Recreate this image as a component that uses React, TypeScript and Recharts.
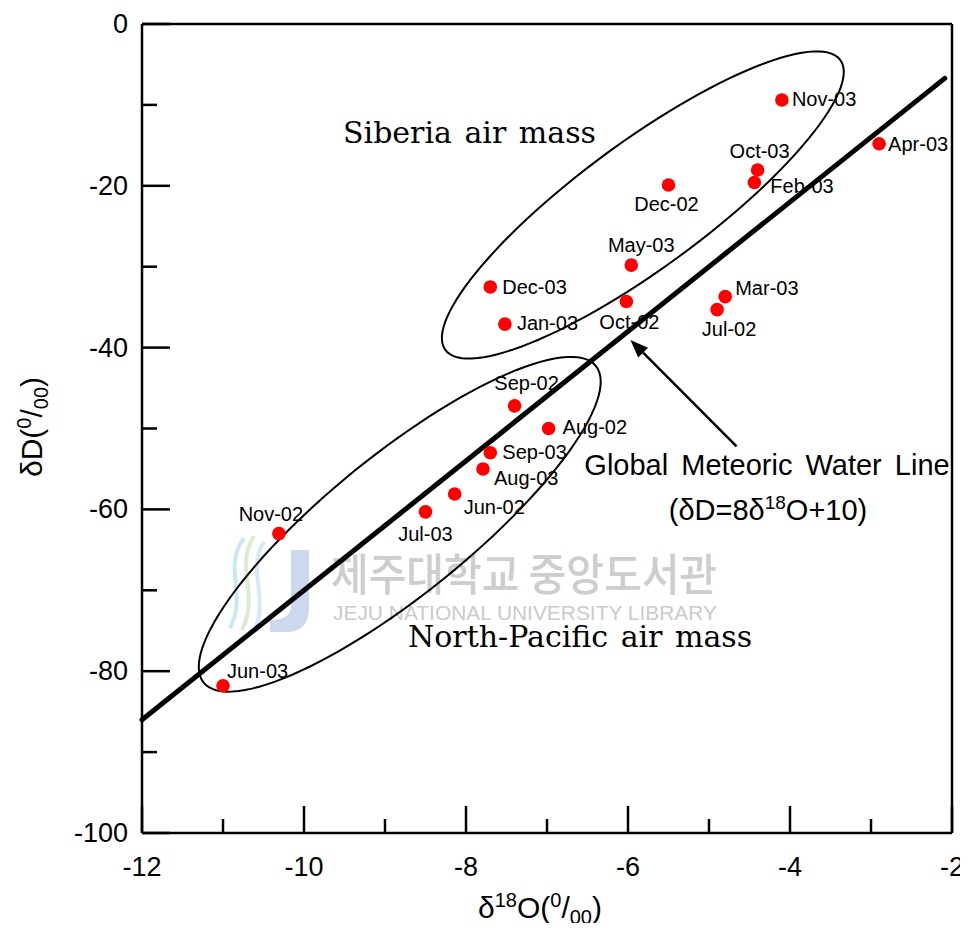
import { ScatterChart, Scatter, XAxis, YAxis, ReferenceLine, Customized } from "recharts";

// monthly isotope samples
const months = ["Nov-03", "Apr-03", "Oct-03", "Feb-03", "Dec-02", "May-03", "Dec-03", "Jan-03", "Oct-02", "Mar-03", "Jul-02", "Sep-02", "Aug-02", "Sep-03", "Aug-03", "Jun-02", "Jul-03", "Nov-02", "Jun-03"];
const d18O = [-4.1, -2.9, -4.4, -4.44, -5.5, -5.96, -7.7, -7.52, -6.02, -4.8, -4.9, -7.4, -6.98, -7.7, -7.79, -8.14, -8.5, -10.31, -11.0];
const dD = [-9.4, -14.8, -18.05, -19.6, -19.9, -29.8, -32.5, -37.1, -34.3, -33.7, -35.3, -47.2, -50.0, -53.0, -55.0, -58.1, -60.3, -63.0, -81.8];

const xTicks = [-12, -11, -10, -9, -8, -7, -6, -5, -4, -3, -2];
const yTicks = [0, -10, -20, -30, -40, -50, -60, -70, -80, -90, -100];

// GMWL: dD = 8 * d18O + 10
const gmwlSlope = 8;
const gmwlIntercept = 10;
const gmwlRange = [-12, -2.09];

// air-mass envelopes: center and two conjugate semi-axes, in data units
const siberiaEnv = { c: [-5.817, -22.37], a: [2.438, 17.92], b: [-0.46, 6.28] };
const pacificEnv = { c: [-8.818, -61.84], a: [2.421, 19.57], b: [-0.543, 6.73] };

const arrowTail = { x: -4.66, y: -52.2 };
const arrowTip = { x: -5.97, y: -39.05 };

const points = months.map((m, i) => ({ name: m, x: d18O[i], y: dD[i] }));

// label offsets (px) relative to each dot
const labelPos: Record<string, [number, number, "start" | "middle" | "end"]> = {
  "Nov-03": [10, -1, "start"],
  "Apr-03": [9, 0, "start"],
  "Oct-03": [2, -19, "middle"],
  "Feb-03": [16, 3, "start"],
  "Dec-02": [-2, 19, "middle"],
  "May-03": [10, -20, "middle"],
  "Dec-03": [12, 0, "start"],
  "Jan-03": [12, -1, "start"],
  "Oct-02": [3, 21, "middle"],
  "Mar-03": [10, -9, "start"],
  "Jul-02": [12, 19, "middle"],
  "Sep-02": [12, -23, "middle"],
  "Aug-02": [14, -2, "start"],
  "Sep-03": [12, -1, "start"],
  "Aug-03": [11, 9, "start"],
  "Jun-02": [9, 13, "start"],
  "Jul-03": [0, 22, "middle"],
  "Nov-02": [-8, -20, "middle"],
  "Jun-03": [4, -15, "start"],
};

function envelope(e: { c: number[]; a: number[]; b: number[] }) {
  const out = [];
  const n = 120;
  for (let i = 0; i <= n; i++) {
    const t = (i / n) * Math.PI * 2;
    out.push({
      x: e.c[0] + Math.cos(t) * e.a[0] + Math.sin(t) * e.b[0],
      y: e.c[1] + Math.cos(t) * e.a[1] + Math.sin(t) * e.b[1],
    });
  }
  return out;
}

const sans = "'Liberation Sans', Arial, sans-serif";
const serif = "'DejaVu Serif', serif";

function XTick({ x, y, payload }: any) {
  const major = Math.abs(payload.value) % 2 === 0;
  return (
    <g>
      <line x1={x} y1={y} x2={x} y2={y - (major ? 27 : 14)} stroke="#000" strokeWidth={2.5} />
      {major && (
        <text x={x} y={y + 34} textAnchor="middle" dominantBaseline="central" fontSize={27} fontFamily={sans} fill="#000">
          {payload.value}
        </text>
      )}
    </g>
  );
}

function YTick({ x, y, payload }: any) {
  const major = Math.abs(payload.value) % 20 === 0;
  return (
    <g>
      <line x1={x} y1={y} x2={x + (major ? 28 : 15)} y2={y} stroke="#000" strokeWidth={2.5} />
      {major && (
        <text x={x - 14} y={y} textAnchor="end" dominantBaseline="central" fontSize={27} fontFamily={sans} fill="#000">
          {payload.value}
        </text>
      )}
    </g>
  );
}

function Dot({ cx, cy, payload }: any) {
  const [dx, dy, anchor] = labelPos[payload.name] || [10, 0, "start"];
  return (
    <g>
      <circle cx={cx} cy={cy} r={6.8} fill="#ff0000" />
      <text x={cx + dx} y={cy + dy} textAnchor={anchor} dominantBaseline="central" fontSize={20} fontFamily={sans} fill="#000">
        {payload.name}
      </text>
    </g>
  );
}

function Arrow({ x1, y1, x2, y2 }: any) {
  const ang = Math.atan2(y2 - y1, x2 - x1);
  const len = 18;
  const hw = 7;
  const bx = x2 - len * Math.cos(ang);
  const by = y2 - len * Math.sin(ang);
  const px = -Math.sin(ang) * hw;
  const py = Math.cos(ang) * hw;
  return (
    <g>
      <line x1={x1} y1={y1} x2={bx} y2={by} stroke="#000" strokeWidth={2.5} />
      <polygon points={`${x2},${y2} ${bx + px},${by + py} ${bx - px},${by - py}`} fill="#000" />
    </g>
  );
}

function Watermark() {
  return (
    <g>
      <g opacity={0.4} fill="none" strokeWidth={4}>
        <path d="M244 538 C 222 568, 248 593, 230 628" stroke="#7fc8e0" />
        <path d="M254 536 C 234 568, 260 593, 242 630" stroke="#a8d08a" />
        <path d="M264 542 C 246 570, 270 598, 254 632" stroke="#9fc8ec" />
      </g>
      <path d="M291 550 L309 550 L309 608 Q309 632 286 632 L270 632 L270 620 Q291 620 291 606 Z" fill="#8ea8d6" opacity={0.45} />
      <text x={331} y={572} textLength={386} lengthAdjust="spacingAndGlyphs" dominantBaseline="central" fontSize={44} fontWeight={500} fontFamily="'Noto Sans CJK KR', sans-serif" fill="#cdcdcd">
        제주대학교 중앙도서관
      </text>
      <text x={333} y={612} textLength={384} lengthAdjust="spacingAndGlyphs" dominantBaseline="central" fontSize={21} fontFamily={sans} fill="#cbcbcb">
        JEJU NATIONAL UNIVERSITY  LIBRARY
      </text>
    </g>
  );
}

function Annotations() {
  return (
    <g fill="#000">
      <text x={343} y={143} fontSize={30} fontFamily={serif} wordSpacing={3}>Siberia air mass</text>
      <text x={408} y={647} fontSize={30} fontFamily={serif} wordSpacing={3}>North-Pacific air mass</text>
      <text x={767} y={475} textAnchor="middle" fontSize={29} fontFamily={sans} wordSpacing={5}>Global Meteoric Water Line</text>
      <text x={768} y={520} textAnchor="middle" fontSize={29} fontFamily={sans}>
        (δD=8δ<tspan fontSize={19} dy={-11}>18</tspan>
        <tspan fontSize={29} dy={11}>O+10)</tspan>
      </text>
      <text x={540} y={918} textAnchor="middle" fontSize={30} fontFamily={sans}>
        δ<tspan fontSize={20} dy={-11}>18</tspan>
        <tspan fontSize={30} dy={11}>O(</tspan>
        <tspan fontSize={20} dy={-11}>0</tspan>
        <tspan fontSize={30} dy={11}>/</tspan>
        <tspan fontSize={20} dy={6}>00</tspan>
        <tspan fontSize={30} dy={-6}>)</tspan>
      </text>
      <text x={42} y={427} transform="rotate(-90 42 427)" textAnchor="middle" fontSize={30} fontFamily={sans}>
        δD(<tspan fontSize={20} dy={-11}>0</tspan>
        <tspan fontSize={30} dy={11}>/</tspan>
        <tspan fontSize={20} dy={6}>00</tspan>
        <tspan fontSize={30} dy={-6}>)</tspan>
      </text>
    </g>
  );
}

export default function App() {
  return (
    <div style={{ margin: -8, width: 968, height: 931, background: "#fff" }}>
      <ScatterChart width={968} height={931} margin={{ top: 24, right: 16, bottom: 0, left: 0 }}>
        <Customized component={Watermark} />
        <XAxis
          type="number"
          dataKey="x"
          domain={[-12, -2]}
          ticks={xTicks}
          interval={0}
          height={98}
          tickSize={0}
          tickMargin={0}
          tickLine={false}
          axisLine={{ stroke: "#000", strokeWidth: 2.5 }}
          tick={<XTick />}
          allowDataOverflow
        />
        <YAxis
          type="number"
          dataKey="y"
          domain={[-100, 0]}
          ticks={yTicks}
          interval={0}
          width={142}
          tickSize={0}
          tickMargin={0}
          tickLine={false}
          axisLine={{ stroke: "#000", strokeWidth: 2.5 }}
          tick={<YTick />}
          allowDataOverflow
        />
        <ReferenceLine y={0} stroke="#000" strokeWidth={2.5} />
        <ReferenceLine x={-2} stroke="#000" strokeWidth={2.5} />
        <Scatter data={envelope(siberiaEnv)} fill="none" line={{ stroke: "#000", strokeWidth: 2 }} shape={() => <g />} isAnimationActive={false} />
        <Scatter data={envelope(pacificEnv)} fill="none" line={{ stroke: "#000", strokeWidth: 2 }} shape={() => <g />} isAnimationActive={false} />
        <ReferenceLine
          segment={[
            { x: gmwlRange[0], y: gmwlSlope * gmwlRange[0] + gmwlIntercept },
            { x: gmwlRange[1], y: gmwlSlope * gmwlRange[1] + gmwlIntercept },
          ]}
          stroke="#000"
          strokeWidth={5}
          strokeLinecap="round"
        />
        <ReferenceLine segment={[arrowTail, arrowTip]} shape={(p: any) => <Arrow {...p} />} />
        <Customized component={Annotations} />
        <Scatter data={points} shape={(p: any) => <Dot {...p} />} isAnimationActive={false} />
      </ScatterChart>
    </div>
  );
}
